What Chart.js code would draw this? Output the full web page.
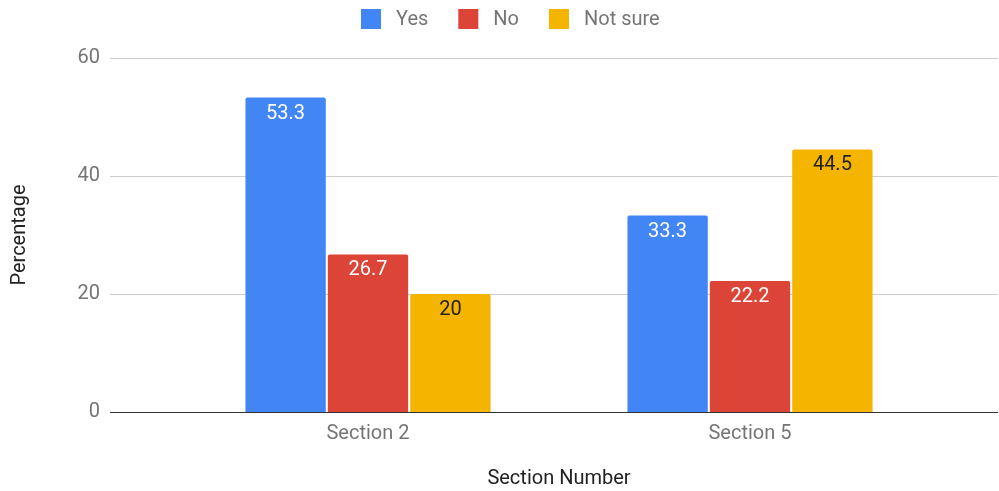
<!DOCTYPE html>
<html>
<head>
<meta charset="utf-8">
<script src="https://cdn.jsdelivr.net/npm/chart.js@4.4.1/dist/chart.umd.min.js"></script>
<style>
  html, body { margin: 0; padding: 0; background: #fff; }
  #wrap { width: 999px; height: 491px; }
</style>
</head>
<body>
<div id="wrap"><canvas id="chart"></canvas></div>
<script>
// Data
const sections = ['Section 2', 'Section 5'];
const answerLabels = ['Yes', 'No', 'Not sure'];
const yesValues = [53.3, 33.3];
const noValues = [26.7, 22.2];
const notSureValues = [20, 44.5];
const yTicks = [0, 20, 40, 60];

const barColors = ['#4285F4', '#DB4437', '#F4B400'];
const labelColors = ['#ffffff', '#ffffff', '#222222'];
const fontFamily = 'Roboto, "Noto Sans", sans-serif';
const fontSize = 20;

// Horizontal grid lines, wider than the plot area
const wideGrid = {
    id: 'wideGrid',
    beforeDatasetsDraw(chart) {
        const ctx = chart.ctx;
        const y = chart.scales.y;
        ctx.save();
        yTicks.forEach(v => {
            const py = Math.round(y.getPixelForValue(v)) + 0.5;
            ctx.strokeStyle = v === 0 ? '#333333' : '#cccccc';
            ctx.lineWidth = 1;
            ctx.beginPath();
            ctx.moveTo(110, py);
            ctx.lineTo(998, py);
            ctx.stroke();
        });
        ctx.restore();
    }
};

// Value labels inside the top of each bar
const barValues = {
    id: 'barValues',
    afterDatasetsDraw(chart) {
        const ctx = chart.ctx;
        ctx.save();
        ctx.font = fontSize + 'px ' + fontFamily;
        ctx.textAlign = 'center';
        ctx.textBaseline = 'middle';
        chart.data.datasets.forEach((ds, i) => {
            chart.getDatasetMeta(i).data.forEach((bar, j) => {
                ctx.fillStyle = labelColors[i];
                ctx.fillText(String(ds.data[j]), bar.x, bar.y + 16);
            });
        });
        ctx.restore();
    }
};

// Legend row across the top: square swatch, then the series name
const topLegend = {
    id: 'topLegend',
    afterDraw(chart) {
        const ctx = chart.ctx;
        const box = 20, gapText = 15, gapItem = 30, centerX = 510, cy = 19;
        ctx.save();
        ctx.font = fontSize + 'px ' + fontFamily;
        ctx.textBaseline = 'middle';
        const items = chart.data.datasets.map(ds => ({
            text: ds.label,
            color: ds.backgroundColor,
            w: ctx.measureText(ds.label).width
        }));
        let total = 0;
        items.forEach((it, i) => {
            total += box + gapText + it.w + (i < items.length - 1 ? gapItem : 0);
        });
        let x = Math.round(centerX - total / 2);
        items.forEach(it => {
            ctx.fillStyle = it.color;
            ctx.fillRect(x, cy - box / 2, box, box);
            x += box + gapText;
            ctx.fillStyle = '#757575';
            ctx.fillText(it.text, x, cy + 1);
            x += it.w + gapItem;
        });
        ctx.restore();
    }
};

new Chart(document.getElementById('chart'), {
    type: 'bar',
    data: {
        labels: sections,
        datasets: [yesValues, noValues, notSureValues].map((vals, i) => ({
            label: answerLabels[i],
            data: vals,
            backgroundColor: barColors[i],
            borderRadius: 2,
            categoryPercentage: 0.647,
            barPercentage: 0.975
        }))
    },
    options: {
        responsive: true,
        maintainAspectRatio: false,
        animation: false,
        layout: { padding: { top: 58, right: 58, left: 0, bottom: 0 } },
        plugins: {
            legend: { display: false },
            tooltip: { enabled: false }
        },
        scales: {
            x: {
                grid: { display: false, drawTicks: false },
                border: { display: false },
                ticks: {
                    padding: 10,
                    color: '#757575',
                    font: { family: fontFamily, size: fontSize }
                },
                title: {
                    display: true,
                    text: 'Section Number',
                    color: '#222222',
                    font: { family: fontFamily, size: fontSize },
                    padding: { top: 11, bottom: 0 }
                }
            },
            y: {
                min: 0,
                max: 60,
                afterBuildTicks(axis) {
                    axis.ticks = yTicks.map(v => ({ value: v }));
                },
                afterFit(axis) {
                    // wide label gap, but no extra space above/below the plot
                    axis.width = 177;
                    axis.paddingTop = 0;
                    axis.paddingBottom = 0;
                },
                grid: { display: false, drawTicks: false },
                border: { display: false },
                ticks: {
                    padding: 77,
                    color: '#757575',
                    font: { family: fontFamily, size: fontSize }
                },
                title: {
                    display: true,
                    text: 'Percentage',
                    color: '#222222',
                    font: { family: fontFamily, size: fontSize },
                    padding: { top: 8, bottom: 0 }
                }
            }
        }
    },
    plugins: [wideGrid, barValues, topLegend]
});
</script>
</body>
</html>
